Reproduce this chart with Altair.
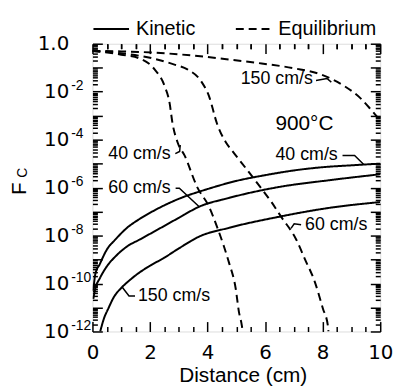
import altair as alt
import pandas as pd

# ---------------- data ----------------
# Kinetic (solid) curves: distance (cm) and F_C
kin40_d = [0.03, 0.1, 0.25, 0.5, 0.8, 1.2, 1.6, 2.2, 3.0, 4.0, 5.0, 6.0, 7.0, 8.0, 9.0, 10.0]
kin40_F = [5.0e-11, 2.5e-10, 6.3e-10, 2.6e-9, 6.9e-9, 2.1e-8, 4.6e-8, 1.2e-7, 3.4e-7, 8.7e-7,
           1.9e-6, 3.3e-6, 5.2e-6, 7.1e-6, 8.5e-6, 1.0e-5]
kin60_d = [0.03, 0.1, 0.25, 0.5, 0.8, 1.2, 1.65, 2.2, 3.0, 3.71, 4.74, 6.46, 8.18, 10.0]
kin60_F = [2.3e-11, 6.3e-11, 1.6e-10, 5.2e-10, 1.35e-9, 3.5e-9, 6.9e-9, 1.6e-8, 5.5e-8, 1.6e-7,
           3.7e-7, 1.05e-6, 2.0e-6, 3.6e-6]
kin150_d = [0.27, 0.4, 0.55, 0.75, 1.0, 1.3, 1.6, 2.0, 2.5, 3.0, 3.71, 4.74, 6.46, 8.18, 10.0]
kin150_F = [1e-12, 3.5e-12, 9e-12, 2.8e-11, 6.5e-11, 1.4e-10, 2.7e-10, 5.5e-10, 1.2e-9, 2.9e-9,
            9.1e-9, 2.1e-8, 6.0e-8, 1.4e-7, 2.5e-7]

# Equilibrium (dashed) curves
eq40_d = [0, 1.0, 1.65, 2.16, 2.51, 2.68, 2.78, 2.96, 3.2, 3.64, 4.05, 4.33, 4.57, 4.74, 4.98, 5.09, 5.19, 5.22]
eq40_F = [0.5, 0.35, 0.24, 0.085, 0.017, 3.4e-3, 5e-4, 7.6e-5, 2.2e-5, 1.05e-6, 1.6e-7, 2.3e-8,
          3.5e-9, 7.8e-10, 5.9e-11, 6.6e-12, 1.8e-12, 1e-12]
eq60_d = [0, 1.0, 2.06, 2.85, 3.30, 3.78, 4.05, 4.33, 4.64, 4.85, 5.43, 5.88, 6.22, 6.56, 7.08,
          7.39, 7.73, 8.01, 8.18, 8.2]
eq60_F = [0.5, 0.4, 0.25, 0.135, 0.085, 0.027, 6.5e-3, 4.6e-4, 7.6e-5, 3.5e-5, 4.5e-6, 8.9e-7,
          2.5e-7, 6.0e-8, 6.9e-9, 1.0e-9, 1.15e-10, 8.9e-12, 1.8e-12, 1e-12]
eq150_d = [0, 1.0, 2.06, 3.5, 4.74, 5.88, 7.04, 7.94, 8.76, 9.31, 9.66, 10.0]
eq150_F = [0.5, 0.48, 0.43, 0.32, 0.22, 0.15, 0.093, 0.052, 0.017, 5.4e-3, 1.9e-3, 6.3e-4]

# Annotation texts (left edge position in data units)
lab_text = ["150 cm/s", "900\u00b0C", "40 cm/s", "40 cm/s", "60 cm/s", "60 cm/s", "150 cm/s"]
lab_d = [5.15, 6.36, 6.36, 0.55, 0.55, 7.39, 1.58]
lab_F = [0.033, 4.6e-4, 2.2e-5, 2.6e-5, 9.5e-7, 2.8e-8, 3.0e-11]
lab_size = [18, 21, 18, 18, 18, 18, 18]

# Leader lines from labels to curves
lead_id = [1, 1, 1, 2, 2, 2, 3, 3, 3, 4, 4, 4, 5, 5, 5, 6, 6, 6]
lead_d = [7.77, 8.15, 8.3, 8.69, 9.11, 9.42, 2.88, 3.03, 3.05, 2.89, 3.02, 3.71,
          7.25, 7.01, 6.9, 1.48, 1.27, 1.03]
lead_F = [0.0295, 0.0355, 0.025, 2.2e-5, 2.2e-5, 9.5e-6, 2.6e-5, 3.2e-5, 6.0e-5,
          9.5e-7, 9.5e-7, 1.6e-7, 2.8e-8, 3.1e-8, 2.0e-8, 3.0e-11, 3.0e-11, 7.2e-11]

# Axis tick positions / labels
x_major = [0, 2, 4, 6, 8, 10]
x_minor = [0.5, 1, 1.5, 2.5, 3, 3.5, 4.5, 5, 5.5, 6.5, 7, 7.5, 8.5, 9, 9.5]
y_label_vals = [1, 1e-2, 1e-4, 1e-6, 1e-8, 1e-10, 1e-12]
y_major = [1, 1e-1, 1e-2, 1e-3, 1e-4, 1e-5, 1e-6, 1e-7, 1e-8, 1e-9, 1e-10, 1e-11, 1e-12]
y_minor = [m * dec for dec in y_major[1:] for m in [2, 3, 4, 5, 6, 7, 8, 9]]

# ---------------- tables ----------------
rows = []
for name, typ, ds, fs in [
    ("k40", "Kinetic", kin40_d, kin40_F),
    ("k60", "Kinetic", kin60_d, kin60_F),
    ("k150", "Kinetic", kin150_d, kin150_F),
    ("e40", "Equilibrium", eq40_d, eq40_F),
    ("e60", "Equilibrium", eq60_d, eq60_F),
    ("e150", "Equilibrium", eq150_d, eq150_F),
]:
    for d, f in zip(ds, fs):
        rows.append({"series": name, "type": typ, "d": d, "F": f})
curves = pd.DataFrame(rows)
labels = pd.DataFrame({"text": lab_text, "d": lab_d, "F": lab_F, "size": lab_size})
leads = pd.DataFrame({"id": lead_id, "d": lead_d, "F": lead_F, "i": list(range(len(lead_d)))})

xscale = alt.Scale(domain=[0, 10], nice=False, zero=False)
yscale = alt.Scale(type="log", domain=[1e-12, 1], nice=False)

MAJ = 10
MIN = 5


def tick_axis(orient, values, size):
    return alt.Axis(orient=orient, offset=-size, tickSize=size, tickWidth=1.5,
                    tickColor="black", labels=False, domain=False, grid=False,
                    values=values, title=None)


def X(axis):
    return alt.X("d:Q", scale=xscale, axis=axis)


def Y(axis):
    return alt.Y("F:Q", scale=yscale, axis=axis)


lines = alt.Chart(curves).mark_line(color="black", strokeWidth=2, clip=True,
                                    interpolate="monotone").encode(
    x=X(alt.Axis(
        orient="bottom", values=x_major, format="d", ticks=False, tickSize=0,
        domain=False, grid=False, labelFont="DejaVu Sans", labelFontSize=20,
        labelColor="black", labelPadding=11, labelFlush=False, labelOverlap=False,
        labelBound=False, title="Distance (cm)", titleFont="Liberation Sans",
        titleFontSize=21, titleFontWeight="normal", titleColor="black",
        titleX=152, titleY=51, titleAlign="center", titleBaseline="alphabetic")),
    y=Y(alt.Axis(
        orient="left", values=y_label_vals, ticks=False, tickSize=0, domain=False,
        grid=False, labelExpr="datum.value >= 0.99 ? '1.0' : '10'",
        labelFont="DejaVu Sans", labelFontSize=20, labelColor="black",
        labelPadding=24, labelAlign="right", labelBaseline="middle",
        labelOverlap=False, labelFlush=False, labelBound=False,
        title="F", titleFont="Liberation Sans", titleFontSize=21,
        titleFontWeight="normal", titleColor="black", titleAngle=270,
        titleX=-74, titleY=146, titleAlign="center", titleBaseline="middle")),
    detail="series:N",
    strokeDash=alt.StrokeDash("type:N", scale=alt.Scale(
        domain=["Kinetic", "Equilibrium"], range=[[1, 0], [8, 5]]),
        legend=alt.Legend(title=None, orient="none", legendX=0, legendY=-34,
                          direction="horizontal", symbolType="stroke",
                          symbolSize=1296, symbolStrokeWidth=2,
                          symbolStrokeColor="black", labelFont="Liberation Sans",
                          labelFontSize=20, labelColor="black", labelOffset=6,
                          columnPadding=36, padding=0)),
)

expo = alt.Chart(curves).mark_point(opacity=0, size=1).encode(
    x=X(tick_axis("bottom", x_major, MAJ)),
    y=Y(alt.Axis(orient="left", values=y_label_vals, ticks=False, tickSize=0, domain=False,
                 grid=False,
                 labelExpr="datum.value >= 0.99 ? '' : '' + round(log(datum.value) / LN10)",
                 labelFont="Liberation Sans", labelFontSize=14, labelColor="black",
                 labelPadding=22, labelAlign="left", labelBaseline="middle",
                 labelOffset=-6, labelOverlap=False, labelFlush=False, labelBound=False,
                 title="C", titleFont="Liberation Sans", titleFontSize=14,
                 titleFontWeight="normal", titleColor="black", titleAngle=270,
                 titleX=-71, titleY=130, titleAlign="center", titleBaseline="middle")),
)

texts = alt.Chart(labels).mark_text(align="left", baseline="middle", color="black",
                                    font="Liberation Sans").encode(
    x=X(tick_axis("bottom", x_minor, MIN)),
    y=Y(tick_axis("left", y_major, MAJ)),
    text="text:N",
    size=alt.Size("size:Q", scale=None, legend=None),
)

leaders = alt.Chart(leads).mark_line(color="black", strokeWidth=1.5, clip=True).encode(
    x=X(tick_axis("top", x_major, MAJ)),
    y=Y(tick_axis("left", y_minor, MIN)),
    detail="id:N",
    order="i:Q",
)

g_right_major = alt.Chart(curves).mark_point(opacity=0, size=1).encode(
    x=X(tick_axis("top", x_minor, MIN)),
    y=Y(tick_axis("right", y_major, MAJ)),
)
g_right_minor = alt.Chart(curves).mark_point(opacity=0, size=1).encode(
    x=X(tick_axis("top", x_minor, MIN)),
    y=Y(tick_axis("right", y_minor, MIN)),
)

panel = alt.layer(
    lines, expo, texts, leaders, g_right_major, g_right_minor
).resolve_axis(x="independent", y="independent").properties(width=291, height=291)

chart = alt.vconcat(panel).properties(
    padding={"left": 7.5, "top": 8, "right": 5, "bottom": 5},
).configure_view(stroke="black", strokeWidth=2).configure(background="white")

chart.save("out.html", embed_options={"renderer": "svg", "actions": False})
